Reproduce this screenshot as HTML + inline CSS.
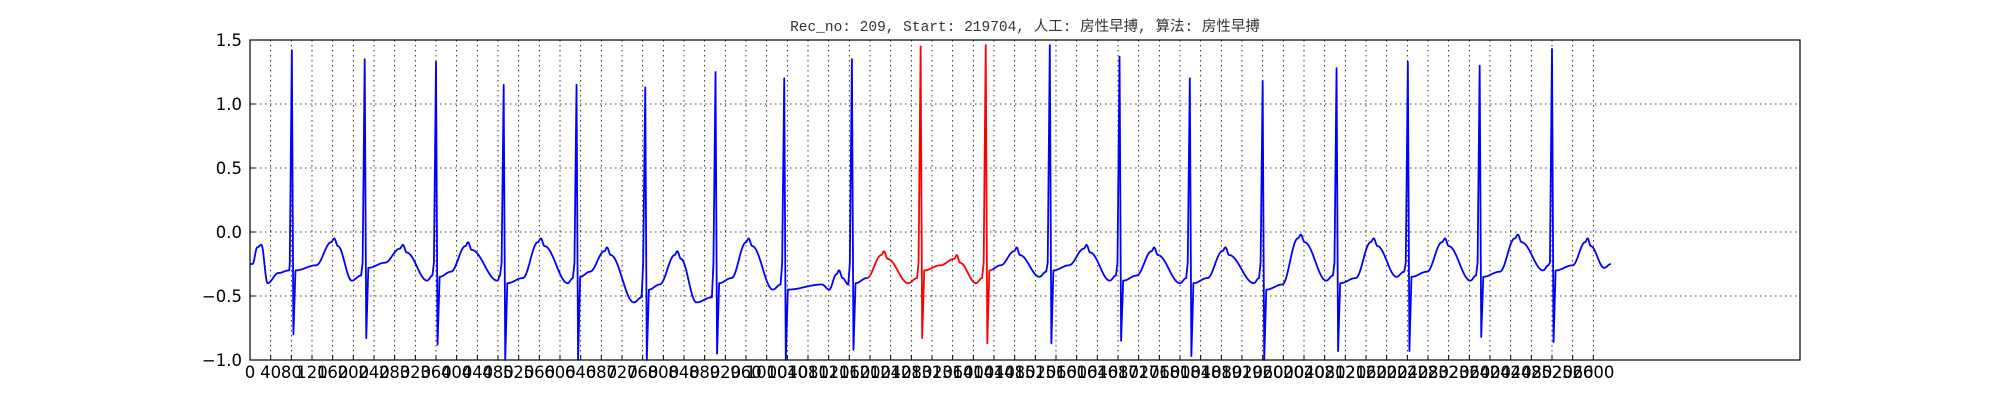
<!DOCTYPE html>
<html><head><meta charset="utf-8">
<style>
html,body{margin:0;padding:0;background:#fff;}
svg{display:block;}
</style></head>
<body>
<svg id="chart" width="2000" height="400" xmlns="http://www.w3.org/2000/svg">
  <rect x="0" y="0" width="2000" height="400" fill="#fff"/>
  <text x="1025" y="31" text-anchor="middle" font-family="'Liberation Mono','Noto Sans CJK SC',monospace" font-size="14.5" fill="#333">Rec_no: 209, Start: 219704, 人工: 房性早搏, 算法: 房性早搏</text>
  <g id="grid"></g>
  <g id="series"></g>
  <rect x="250" y="40" width="1550" height="320" fill="none" stroke="#000" stroke-width="1.2"/>
  <g id="ticks"></g>
</svg>
<script>
// ---- data (sample indices / mV) ----
const rPos  = [81,222,360,491,632,765,901,1034,1165,1298,1424,1548,1683,1819,1960,2103,2241,2380,2520];
const rAmp  = [1.42,1.35,1.33,1.15,1.15,1.13,1.25,1.20,1.35,1.45,1.46,1.46,1.37,1.20,1.18,1.28,1.33,1.30,1.43];
const sAmp  = [-0.80,-0.83,-0.88,-1.00,-1.00,-1.00,-0.95,-1.00,-0.92,-0.83,-0.87,-0.87,-0.85,-0.97,-1.00,-0.93,-0.93,-0.82,-0.86];
const postS = [-0.30,-0.28,-0.35,-0.40,-0.35,-0.45,-0.40,-0.45,-0.40,-0.30,-0.30,-0.30,-0.38,-0.40,-0.45,-0.40,-0.35,-0.35,-0.30];
const tPos  = [163,296,422,563,691,827,965,1140,1227,1368,1484,1619,1750,1888,2034,2175,2313,2454,2589];
const tAmp  = [-0.05,-0.10,-0.08,-0.05,-0.12,-0.15,-0.05,-0.30,-0.15,-0.18,-0.12,-0.10,-0.12,-0.12,-0.02,-0.05,-0.05,-0.02,-0.05];
const trPos = [197,343,479,615,743,864,1012,1121,1274,1405,1528,1664,1800,1943,2083,2219,2362,2503,2621];
const trVal = [-0.38,-0.38,-0.38,-0.40,-0.55,-0.55,-0.45,-0.45,-0.40,-0.40,-0.35,-0.38,-0.40,-0.40,-0.38,-0.35,-0.38,-0.30,-0.28];
const startSeg = [[0,-0.25],[5,-0.25],[14,-0.12],[22,-0.10],[34,-0.40],[55,-0.32],[76,-0.30]];
const endSample = 2634, endVal = -0.25;
const redRange = [1195, 1437];
const yTicks = [-1.0,-0.5,0.0,0.5,1.0,1.5];
const xTickStep = 40, xTickMax = 2600;
// ---- axes ----
const X0=250, X1=1800, Y0=40, Y1=360, XMAX=3000, YMIN=-1, YMAX=1.5;
const sx = v => X0 + v*(X1-X0)/XMAX;
const sy = v => Y0 + (YMAX-v)*(Y1-Y0)/(YMAX-YMIN);
const NS='http://www.w3.org/2000/svg';
const grid=document.getElementById('grid'), ticks=document.getElementById('ticks'), series=document.getElementById('series');
function mk(tag, attrs, parent){const e=document.createElementNS(NS,tag);for(const k in attrs)e.setAttribute(k,attrs[k]);parent.appendChild(e);return e;}
yTicks.forEach(v=>{
  const y=sy(v);
  const g=mk('line',{x1:X0,x2:X1,y1:y,y2:y,stroke:'#000','stroke-width':0.8,'stroke-dasharray':'1.5,3.5'},grid);
  
  
  const t=mk('line',{x1:X0,x2:X0+5,y1:y,y2:y,stroke:'#000'},ticks);
  
  
  const lb=mk('text',{x:X0-8,y:y+6,'text-anchor':'end','font-family':"'DejaVu Sans','Liberation Sans',sans-serif",'font-size':16.5},ticks);
  lb.textContent=(v<0?'\u2212':'')+Math.abs(v).toFixed(1);
  
  
});
for(let v=0; v<=xTickMax; v+=xTickStep){
  const x=sx(v);
  const g=mk('line',{x1:x,x2:x,y1:Y0,y2:Y1,stroke:'#000','stroke-width':0.8,'stroke-dasharray':'1.5,3.5'},grid);
  
  
  const t=mk('line',{x1:x,x2:x,y1:Y1,y2:Y1-5,stroke:'#000'},ticks);
  
  
  const lb=mk('text',{x:x,y:Y1+18,'text-anchor':'middle','font-family':"'DejaVu Sans','Liberation Sans',sans-serif",'font-size':16.5},ticks);
  lb.textContent=String(v);
  
  
}
// knots: [sample, value, smooth?]
const knots=startSeg.map(k=>[k[0],k[1],1]);
for(let i=0;i<rPos.length;i++){
  const r=rPos[i];
  knots.push([r-4,-0.24,0],[r,rAmp[i],0],[r+3,sAmp[i],0],[r+7,postS[i],1]);
  const rr=(i+1<rPos.length?rPos[i+1]:endSample)-r;
  const ts=Math.max(r+12, tPos[i]-Math.round(rr*0.25));
  knots.push([ts,postS[i]+0.04,1],[tPos[i]-Math.round(rr*0.04),tAmp[i]-0.03,1],[tPos[i],tAmp[i],1],
             [tPos[i]+Math.round(rr*0.05),tAmp[i]-0.06,1],[trPos[i],trVal[i],1]);
  if(i+1<rPos.length) knots.push([rPos[i+1]-7,trVal[i]+0.04,1]);
}
knots.push([endSample,endVal,1]);
knots.sort((a,b)=>a[0]-b[0]);
function valAt(s){
  for(let k=0;k<knots.length-1;k++){
    const a=knots[k],b=knots[k+1];
    if(s>=a[0]&&s<=b[0]){
      if(b[0]===a[0]) return a[1];
      let t=(s-a[0])/(b[0]-a[0]);
      if(a[2]&&b[2]) t=(1-Math.cos(Math.PI*t))/2;
      return a[1]+(b[1]-a[1])*t;
    }
  }
  return endVal;
}
function seg(from,to,color,name){
  let d='';
  for(let s=from;s<=to;s++){d+=(s===from?'M':'L')+sx(s).toFixed(2)+','+sy(valAt(s)).toFixed(2);}
  const p=mk('path',{d:d,fill:'none',stroke:color,'stroke-width':1.8,'stroke-linejoin':'round'},series);
  
  
}
seg(0,redRange[0],'#0000ff','ecg-line-normal-1');
seg(redRange[0],redRange[1],'#ff0000','ecg-line-premature');
seg(redRange[1],endSample,'#0000ff','ecg-line-normal-2');
</script>
</body></html>
